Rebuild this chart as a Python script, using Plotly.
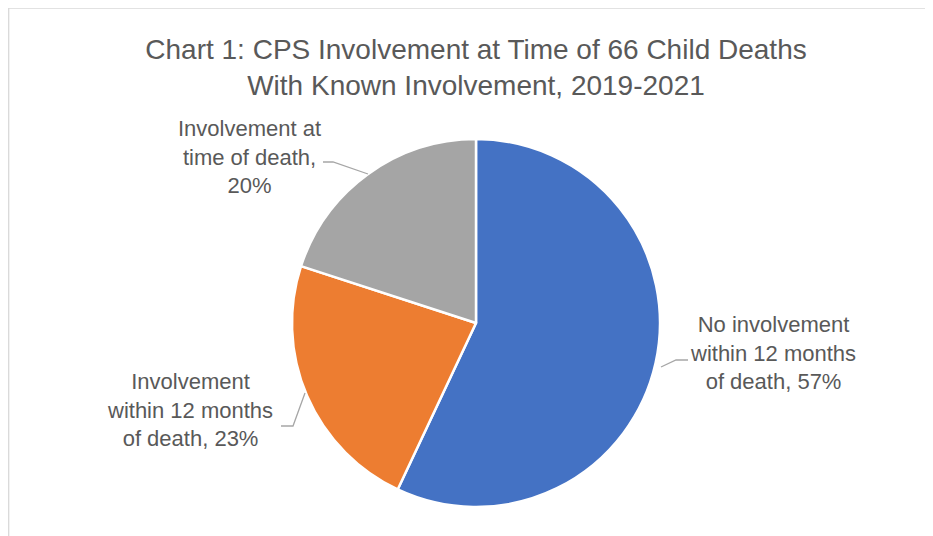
import plotly.graph_objects as go

categories = ["No involvement within 12 months of death",
              "Involvement within 12 months of death",
              "Involvement at time of death"]
label_lines = [["No involvement", "within 12 months", "of death"],
               ["Involvement", "within 12 months", "of death"],
               ["Involvement at", "time of death,", ""]]
percents = [57, 23, 20]
colors = ["#4472C4", "#ED7D31", "#A5A5A5"]
title_text = "Chart 1: CPS Involvement at Time of 66 Child Deaths<br>With Known Involvement, 2019-2021"

W, H = 933, 536
OFF = 8  # page body margin in the viewer
FONT = "Liberation Sans, Arial"
TXT = "#595959"

def px(x):
    return (x - OFF) / W

def py(y):
    return 1 - (y - OFF) / H

cx, cy, r = 476, 323, 184

fig = go.Figure(go.Pie(
    labels=categories,
    values=percents,
    sort=False,
    direction="clockwise",
    rotation=0,
    marker=dict(colors=colors, line=dict(color="white", width=2.5)),
    textinfo="none",
    hoverinfo="label+percent",
    domain=dict(x=[px(cx - r), px(cx + r)], y=[py(cy + r), py(cy - r)]),
    showlegend=False,
))

def label_text(i):
    l = label_lines[i]
    if i == 2:
        return f"{l[0]}<br>{l[1]}<br>{percents[i]}%"
    return f"{l[0]}<br>{l[1]}<br>{l[2]}, {percents[i]}%"

label_pos = [(773, 353), (190, 410), (249, 157)]
annotations = []
for i, (x, y) in enumerate(label_pos):
    annotations.append(dict(
        x=px(x), y=py(y), xref="paper", yref="paper",
        text=label_text(i), showarrow=False, align="center",
        xanchor="center", yanchor="middle",
        font=dict(family=FONT, size=22, color=TXT),
    ))

leaders = [
    [(661, 367), (676, 360), (688, 360)],
    [(281, 426), (293, 426), (305, 393)],
    [(323, 162), (333, 162), (368, 174)],
]
shapes = []
for pts in leaders:
    path = "M " + " L ".join(f"{px(x)},{py(y)}" for x, y in pts)
    shapes.append(dict(type="path", xref="paper", yref="paper", path=path,
                       line=dict(color="#A6A6A6", width=1.3)))

shapes.append(dict(type="rect", xref="paper", yref="paper",
                   x0=px(8.7), y0=-0.1, x1=1.1, y1=py(8),
                   line=dict(color="#D9D9D9", width=1.3), fillcolor="rgba(0,0,0,0)"))

fig.update_layout(
    width=W, height=H,
    margin=dict(l=0, r=0, t=0, b=0),
    paper_bgcolor="white", plot_bgcolor="white",
    title=dict(text=title_text,
               x=px(476), y=py(59), xanchor="center", yanchor="middle",
               font=dict(family=FONT, size=28, color=TXT)),
    annotations=annotations,
    shapes=shapes,
)

fig.write_html("out.html")
